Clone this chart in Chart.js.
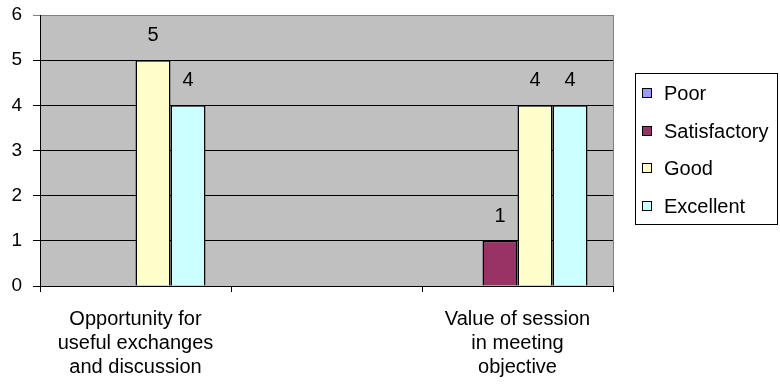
<!DOCTYPE html>
<html>
<head>
<meta charset="utf-8">
<script src="https://cdn.jsdelivr.net/npm/chart.js@4.4.1/dist/chart.umd.min.js"></script>
<style>
  html, body { margin: 0; padding: 0; background: #fff; }
  #wrap { width: 780px; height: 387px; position: relative; }
</style>
</head>
<body>
<div id="wrap"><canvas id="ratingChart" width="780" height="387"></canvas></div>
<script>
// Survey ratings per question (middle category left blank on purpose)
const categories = [
    ['Opportunity for', 'useful exchanges', 'and discussion'],
    '',
    ['Value of session', 'in meeting', 'objective']
];
const seriesNames = ['Poor', 'Satisfactory', 'Good', 'Excellent'];
const poor = [0, null, 0];
const satisfactory = [0, null, 1];
const good = [5, null, 4];
const excellent = [4, null, 4];
const seriesColors = ['#9999FF', '#993366', '#FFFFCC', '#CCFFFF'];
const yTicks = [0, 1, 2, 3, 4, 5, 6];

const FONT = "'Liberation Sans', Arial, sans-serif";

// value labels above each non-zero bar
const valueLabels = {
    id: 'valueLabels',
    afterDatasetsDraw(chart) {
        const ctx = chart.ctx;
        ctx.save();
        ctx.font = '20px ' + FONT;
        ctx.fillStyle = '#000';
        ctx.textAlign = 'center';
        ctx.textBaseline = 'alphabetic';
        chart.data.datasets.forEach((ds, i) => {
            chart.getDatasetMeta(i).data.forEach((bar, j) => {
                const v = ds.data[j];
                if (!v) return;
                ctx.fillText(String(v), bar.x, bar.y - 19);
            });
        });
        ctx.restore();
    }
};

// boxed legend on the right, Excel style
const boxLegend = {
    id: 'boxLegend',
    afterDraw(chart) {
        const ctx = chart.ctx;
        const left = 635.5, top = 73.5, w = 142, h = 151;
        ctx.save();
        ctx.fillStyle = '#fff';
        ctx.strokeStyle = '#000';
        ctx.lineWidth = 1;
        ctx.fillRect(left, top, w, h);
        ctx.strokeRect(left, top, w, h);
        ctx.font = '20px ' + FONT;
        ctx.textBaseline = 'middle';
        chart.data.datasets.forEach((ds, i) => {
            const cy = Math.round(93 + i * 37.7);
            ctx.fillStyle = ds.backgroundColor;
            ctx.fillRect(642.5, cy - 4.5, 9, 9);
            ctx.strokeRect(642.5, cy - 4.5, 9, 9);
            ctx.fillStyle = '#000';
            ctx.fillText(ds.label, 664, cy + 1);
        });
        ctx.restore();
    }
};

// gray plot background
const plotBg = {
    id: 'plotBg',
    beforeDraw(chart) {
        const a = chart.chartArea;
        const ctx = chart.ctx;
        ctx.save();
        ctx.fillStyle = '#C0C0C0';
        ctx.fillRect(a.left, a.top, a.right - a.left, a.bottom - a.top);
        ctx.strokeStyle = '#808080';
        ctx.beginPath();
        ctx.moveTo(a.right + 0.5, a.top);
        ctx.lineTo(a.right + 0.5, a.bottom);
        ctx.stroke();
        ctx.restore();
    }
};

const ratingChart = new Chart(document.getElementById('ratingChart').getContext('2d'), {
    type: 'bar',
    data: {
        labels: categories,
        datasets: [poor, satisfactory, good, excellent].map((d, i) => ({
            label: seriesNames[i],
            data: d,
            backgroundColor: seriesColors[i],
            borderColor: '#000',
            borderWidth: 1.5,
            categoryPercentage: 0.733,
            barPercentage: 1
        }))
    },
    options: {
        responsive: false,
        animation: false,
        devicePixelRatio: 1,
        layout: { padding: { top: 15, right: 167, left: 0, bottom: 0 } },
        plugins: {
            legend: { display: false },
            tooltip: { enabled: false }
        },
        scales: {
            x: {
                grid: {
                    offset: true,
                    drawOnChartArea: false,
                    color: '#000',
                    tickLength: 6
                },
                border: { color: '#000', width: 1 },
                ticks: {
                    color: '#000',
                    font: { family: FONT, size: 20, lineHeight: '24px' },
                    padding: 15,
                    maxRotation: 0,
                    autoSkip: false
                },
                afterFit(scale) {
                    scale.height = 101;
                    scale.paddingLeft = 0;
                    scale.paddingRight = 0;
                }
            },
            y: {
                min: 0,
                max: 6,
                afterBuildTicks(scale) { scale.ticks = yTicks.map(v => ({ value: v })); },
                grid: {
                    color: ctx => (ctx.tick && ctx.tick.value === 6 ? '#808080' : '#000'),
                    tickLength: 7
                },
                border: { color: '#000', width: 1 },
                ticks: {
                    color: '#000',
                    font: { family: FONT, size: 19 },
                    padding: 11
                },
                afterFit(scale) {
                    scale.width = 40;
                    scale.paddingTop = 0;
                    scale.paddingBottom = 0;
                }
            }
        }
    },
    plugins: [plotBg, valueLabels, boxLegend]
});
</script>
</body>
</html>
